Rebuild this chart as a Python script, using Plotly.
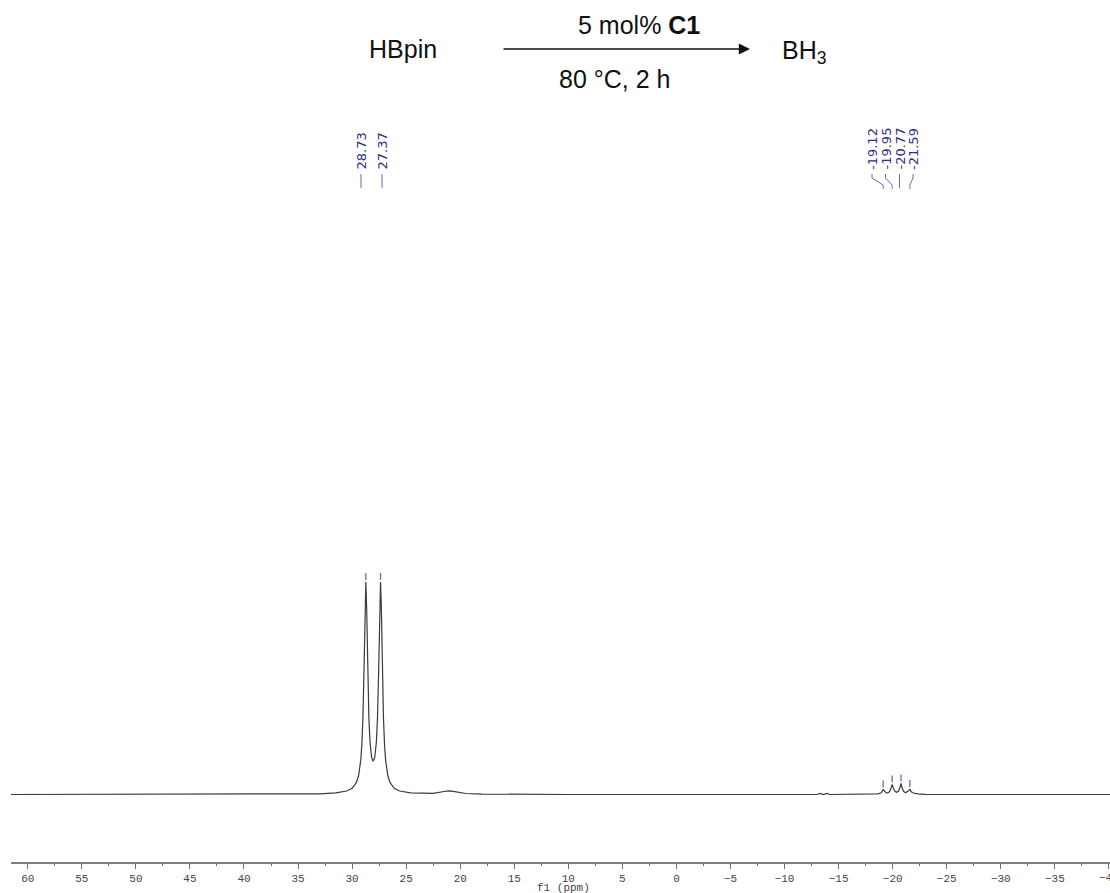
import plotly.graph_objects as go

# ---------------- data ----------------
ppm = [61.55, 40.0, 33.0, 31.5, 30.5, 30.0, 29.6, 29.4, 29.2, 29.1, 29.0, 28.9, 28.8, 28.73,
       28.65, 28.55, 28.45, 28.35, 28.2, 28.05, 27.9, 27.75, 27.65, 27.55, 27.45, 27.37,
       27.3, 27.2, 27.1, 27.0, 26.9, 26.7, 26.5, 26.1, 25.6, 24.6, 23.1, 22.5, 21.5, 21.0,
       20.5, 19.5, 18.0, 15.0, 10.0, -13.0, -13.3, -13.6, -13.9, -14.2, -18.0, -18.6, -18.9,
       -19.0, -19.12, -19.25, -19.4, -19.6, -19.75, -19.85, -19.95, -20.05, -20.2, -20.36,
       -20.55, -20.67, -20.77, -20.88, -21.0, -21.2, -21.4, -21.5, -21.59, -21.7, -21.9,
       -22.3, -23.0, -25.0, -40.1]
intensity = [0.0, 0.0, 0.7, 1.6, 3.5, 6.2, 12.1, 19.0, 34.4, 49.8, 76.8, 124.4, 189.3, 212.5,
             184.3, 120.7, 77.2, 53.4, 37.3, 33.2, 37.3, 53.4, 77.2, 120.7, 184.3, 212.5,
             189.3, 124.4, 76.8, 49.8, 34.4, 19.0, 12.1, 6.2, 3.5, 1.6, 1.0, 1.2, 3.0, 3.7,
             2.8, 1.0, 0.4, 0.1, 0.0, 0.0, 1.0, 0.0, 1.0, 0.0, 0.2, 0.6, 1.5,
             2.5, 5.0, 2.8, 1.6, 1.8, 3.5, 6.5, 10.0, 6.5, 3.2, 2.2,
             3.5, 7.0, 11.0, 6.5, 3.2, 1.8, 2.8, 4.0, 5.5, 3.0, 1.5,
             0.6, 0.2, 0.0, 0.0]

peak_ppm = [28.73, 27.37, -19.12, -19.95, -20.77, -21.59]
peak_labels = ["28.73", "27.37", "19.12", "19.95", "20.77", "21.59"]
peak_sign = ["", "", "-", "-", "-", "-"]

major_ticks = list(range(-40, 61, 5))
tick_text = [str(v).replace("-", "\u2212") for v in major_ticks]

# ---------------- layout helpers ----------------
W, H = 1110, 893
ML, MR, MT, MB = 11, 0, 0, 31
X0, X1 = 61.55, -40.1
Y0, Y1 = -67.5, 794.5           # y data units equal pixels
PW = W - ML - MR
PH = H - MT - MB


def px_to_ppm(px):
    return X0 - (px - ML) * (X0 - X1) / PW


def py_to_y(py):
    return Y1 - py


def py_to_paper(py):
    return (H - MB - py) / PH


def ppm_to_px(p):
    return ML + (X0 - p) * PW / (X0 - X1)


def h_at(p):
    return intensity[min(range(len(ppm)), key=lambda i: abs(ppm[i] - p))]


LBL = "#2e2e86"
LINE = "#6a6ab8"
TICKFONT = dict(family="Liberation Mono", size=11, color="#444444")

fig = go.Figure()
fig.add_trace(go.Scatter(x=ppm, y=intensity, mode="lines",
                         line=dict(color="#3a3a3a", width=1.2),
                         hoverinfo="skip", showlegend=False))

# peak markers above peak tops
mx, my = [], []
for p in peak_ppm:
    top = h_at(p)
    mx += [p, p, None]
    my += [top + 2, top + 9, None]
fig.add_trace(go.Scatter(x=mx, y=my, mode="lines",
                         line=dict(color=LINE, width=1.3),
                         hoverinfo="skip", showlegend=False))

# peak labels (pixel x positions of the label columns)
label_px = [361, 382, 872, 885.5, 899.5, 913]
cx, cy = [], []
for lx, p, txt, sg in zip(label_px, peak_ppm, peak_labels, peak_sign):
    fig.add_annotation(x=px_to_ppm(lx), y=py_to_y(172), xref="x", yref="y",
                       text=sg + txt, textangle=-90, showarrow=False,
                       xanchor="center", yanchor="bottom",
                       font=dict(family="DejaVu Sans", size=13, color=LBL))
    pkx = ppm_to_px(p)
    if abs(pkx - lx) < 3 or lx < 400:
        cx += [px_to_ppm(lx), px_to_ppm(lx), None]
        cy += [py_to_y(174), py_to_y(188), None]
    else:
        cx += [px_to_ppm(lx), px_to_ppm(lx), p, p, None]
        cy += [py_to_y(174), py_to_y(178), py_to_y(185), py_to_y(189), None]
fig.add_trace(go.Scatter(x=cx, y=cy, mode="lines",
                         line=dict(color=LINE, width=1),
                         hoverinfo="skip", showlegend=False))

# reaction scheme
SF = dict(family="Liberation Sans, Arial", size=25, color="#111111")
fig.add_annotation(x=px_to_ppm(402.5), y=py_to_y(49), text="HBpin", showarrow=False,
                   xanchor="center", yanchor="middle", font=SF)
fig.add_annotation(x=px_to_ppm(639), y=py_to_y(25), text="5 mol% <b>C1</b>", showarrow=False,
                   xanchor="center", yanchor="middle", font=SF)
fig.add_annotation(x=px_to_ppm(614), y=py_to_y(79), text="80 °C, 2 h", showarrow=False,
                   xanchor="center", yanchor="middle", font=SF)
fig.add_annotation(x=px_to_ppm(780), y=py_to_y(52), text="BH<sub>3</sub>", showarrow=False,
                   xanchor="left", yanchor="middle", font=SF)
fig.add_annotation(x=px_to_ppm(750), y=py_to_y(49), ax=-248, ay=0,
                   axref="pixel", ayref="pixel", text="", showarrow=True,
                   arrowhead=2, arrowsize=1.4, arrowwidth=1.6, arrowcolor="#111111")

# axis title
fig.add_annotation(x=px_to_ppm(563), y=py_to_paper(888), xref="x", yref="paper",
                   text="f1 (ppm)", showarrow=False, xanchor="center", yanchor="middle",
                   font=TICKFONT)
# last tick label, clipped by the right edge as in the picture
fig.add_annotation(x=major_ticks[0], y=py_to_paper(878), xref="x", yref="paper",
                   text=tick_text[0], showarrow=False, xanchor="center", yanchor="middle",
                   font=TICKFONT)

fig.update_layout(
    width=W, height=H,
    margin=dict(l=ML, r=MR, t=MT, b=MB),
    paper_bgcolor="white", plot_bgcolor="white",
    showlegend=False,
    xaxis=dict(range=[X0, X1], showgrid=False, zeroline=False,
               showline=True, linecolor="#808080", linewidth=1.5,
               ticks="outside", ticklen=5, tickwidth=1, tickcolor="#707070",
               tickvals=major_ticks, ticktext=tick_text,
               tickfont=TICKFONT,
               minor=dict(dtick=2.5, ticks="outside", ticklen=2, tickcolor="#707070", showgrid=False)),
    yaxis=dict(range=[Y0, Y1], visible=False, showgrid=False, zeroline=False),
)

fig.write_html("out.html")
